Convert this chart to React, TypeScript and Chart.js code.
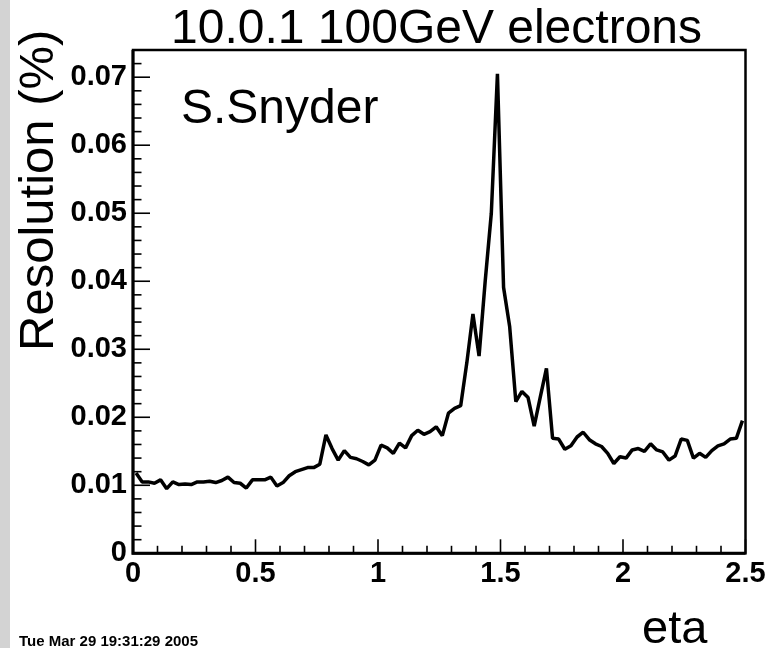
import React, { useEffect, useRef } from 'react';
import { Chart, registerables } from 'chart.js';

Chart.register(...registerables);

const TITLE = '10.0.1 100GeV electrons';
const AUTHOR = 'S.Snyder';
const X_LABEL = 'eta';
const Y_LABEL = 'Resolution (%)';
const DATE_TEXT = 'Tue Mar 29 19:31:29 2005';

const ETA_MIN = 0;
const ETA_MAX = 2.5;
const BIN_WIDTH = 0.025;
const Y_MIN = 0;
const Y_MAX = 0.074;

const X_MAJOR_TICKS = [0, 0.5, 1, 1.5, 2, 2.5];
const X_TICK_LABELS = ['0', '0.5', '1', '1.5', '2', '2.5'];
const X_MINOR_STEP = 0.1;
const Y_MAJOR_TICKS = [0, 0.01, 0.02, 0.03, 0.04, 0.05, 0.06, 0.07];
const Y_TICK_LABELS = ['0', '0.01', '0.02', '0.03', '0.04', '0.05', '0.06', '0.07'];
const Y_MINOR_STEP = 0.002;

// resolution per eta bin (100 bins of width 0.025)
const resolution = [
  0.0118, 0.0105, 0.0105, 0.0103, 0.0108, 0.0095, 0.0105, 0.0101, 0.0102, 0.0101,
  0.0105, 0.0105, 0.0106, 0.0104, 0.0107, 0.0112, 0.0104, 0.0103, 0.0096, 0.0108,
  0.0108, 0.0108, 0.0112, 0.0099, 0.0104, 0.0114, 0.0120, 0.0123, 0.0126, 0.0126,
  0.0131, 0.0174, 0.0154, 0.0137, 0.0151, 0.0141, 0.0139, 0.0135, 0.0130, 0.0137,
  0.0159, 0.0155, 0.0147, 0.0162, 0.0155, 0.0173, 0.0181, 0.0175, 0.0179, 0.0186,
  0.0173, 0.0206, 0.0213, 0.0217, 0.0280, 0.0352, 0.0290, 0.0400, 0.0500, 0.0705,
  0.0391, 0.0333, 0.0223, 0.0238, 0.0229, 0.0187, 0.0230, 0.0272, 0.0169, 0.0168,
  0.0153, 0.0158, 0.0171, 0.0178, 0.0167, 0.0161, 0.0157, 0.0147, 0.0132, 0.0142,
  0.0140, 0.0152, 0.0154, 0.0150, 0.0161, 0.0152, 0.0149, 0.0137, 0.0143, 0.0168,
  0.0166, 0.0140, 0.0147, 0.0141, 0.0151, 0.0158, 0.0161, 0.0168, 0.0169, 0.0195,
];

const W = 769;
const H = 648;
const FONT = '"Liberation Sans", Arial, Helvetica, sans-serif';

const near = (a: number, b: number) => Math.abs(a - b) < 1e-6;
const labelFor = (v: number, majors: number[], labels: string[]) => {
  const i = majors.findIndex((m) => near(m, v));
  return i >= 0 ? labels[i] : '';
};

const rootFrame = {
  id: 'rootFrame',
  beforeDraw(chart: any) {
    const ctx = chart.ctx;
    ctx.save();
    ctx.fillStyle = '#ffffff';
    ctx.fillRect(0, 0, chart.width, chart.height);
    ctx.fillStyle = '#d3d3d3';
    ctx.fillRect(0, 0, 10, chart.height);
    ctx.restore();
  },
  beforeDatasetsDraw(chart: any) {
    const { ctx, chartArea: a, scales } = chart;
    const x = scales.x;
    const y = scales.y;
    ctx.save();
    ctx.strokeStyle = '#000';
    ctx.lineWidth = 1.6;
    for (const t of y.ticks) {
      const py = y.getPixelForValue(t.value);
      const major = Y_MAJOR_TICKS.some((m) => near(m, t.value));
      ctx.beginPath();
      ctx.moveTo(a.left, py);
      ctx.lineTo(a.left + (major ? 17 : 8.5), py);
      ctx.stroke();
    }
    for (const t of x.ticks) {
      const px = x.getPixelForValue(t.value);
      const major = X_MAJOR_TICKS.some((m) => near(m, t.value));
      ctx.beginPath();
      ctx.moveTo(px, a.bottom);
      ctx.lineTo(px, a.bottom - (major ? 14 : 7.5));
      ctx.stroke();
    }
    ctx.lineWidth = 2.5;
    ctx.strokeRect(a.left, a.top, a.right - a.left, a.bottom - a.top);
    ctx.lineWidth = 3;
    ctx.beginPath();
    ctx.moveTo(a.left, a.top);
    ctx.lineTo(a.left, a.bottom);
    ctx.lineTo(a.right, a.bottom);
    ctx.stroke();
    ctx.restore();
  },
  afterDraw(chart: any) {
    const ctx = chart.ctx;
    ctx.save();
    ctx.fillStyle = '#000';
    ctx.textBaseline = 'alphabetic';
    ctx.textAlign = 'left';
    ctx.font = `48px ${FONT}`;
    ctx.fillText(TITLE, 171, 43);
    ctx.fillText(AUTHOR, 181, 123);
    ctx.font = `47px ${FONT}`;
    ctx.fillText(X_LABEL, 642, 643);
    ctx.font = `bold 15px ${FONT}`;
    ctx.fillText(DATE_TEXT, 19, 646);
    ctx.translate(53, 351);
    ctx.rotate(-Math.PI / 2);
    ctx.font = `49px ${FONT}`;
    ctx.fillText(Y_LABEL, 0, 0);
    ctx.restore();
  },
};

export default function App() {
  const ref = useRef<HTMLCanvasElement | null>(null);

  useEffect(() => {
    if (!ref.current) return;
    const points = resolution.map((v, k) => ({ x: ETA_MIN + BIN_WIDTH * (k + 0.5), y: v }));
    const chart = new Chart(ref.current, {
      type: 'line',
      data: {
        datasets: [
          {
            data: points,
            borderColor: '#000',
            borderWidth: 3.5,
            pointRadius: 0,
            tension: 0,
            fill: false,
            borderJoinStyle: 'bevel',
          },
        ],
      },
      options: {
        animation: false,
        responsive: false,
        devicePixelRatio: 1,
        layout: { padding: { left: 0, right: 23.5, top: 50, bottom: 0 } },
        plugins: {
          legend: { display: false },
          tooltip: { enabled: false },
          title: { display: false },
        },
        scales: {
          x: {
            type: 'linear',
            min: ETA_MIN,
            max: ETA_MAX,
            grid: { display: false, drawTicks: false },
            border: { display: false },
            afterBuildTicks: (s: any) => {
              const n = Math.round((ETA_MAX - ETA_MIN) / X_MINOR_STEP);
              s.ticks = Array.from({ length: n + 1 }, (_, i) => ({ value: +(ETA_MIN + i * X_MINOR_STEP).toFixed(4) }));
            },
            afterFit: (s: any) => {
              s.height = H - 553.3;
            },
            ticks: {
              autoSkip: false,
              maxRotation: 0,
              padding: 3,
              color: '#000',
              font: { family: FONT, size: 29, weight: 'bold' },
              callback: (v: any) => labelFor(Number(v), X_MAJOR_TICKS, X_TICK_LABELS),
            },
          },
          y: {
            type: 'linear',
            min: Y_MIN,
            max: Y_MAX,
            grid: { display: false, drawTicks: false },
            border: { display: false },
            afterBuildTicks: (s: any) => {
              const n = Math.floor((Y_MAX - Y_MIN) / Y_MINOR_STEP + 1e-6);
              s.ticks = Array.from({ length: n + 1 }, (_, i) => ({ value: +(Y_MIN + i * Y_MINOR_STEP).toFixed(4) }));
            },
            afterFit: (s: any) => {
              s.width = 133;
            },
            ticks: {
              autoSkip: false,
              padding: 6,
              color: '#000',
              font: { family: FONT, size: 29, weight: 'bold' },
              callback: (v: any) => labelFor(Number(v), Y_MAJOR_TICKS, Y_TICK_LABELS),
            },
          },
        },
      } as any,
      plugins: [rootFrame],
    });
    return () => chart.destroy();
  }, []);

  return (
    <div style={{ position: 'fixed', left: 0, top: 0, width: W, height: H, background: '#fff' }}>
      <canvas ref={ref} width={W} height={H} style={{ display: 'block', width: W, height: H }} />
    </div>
  );
}
